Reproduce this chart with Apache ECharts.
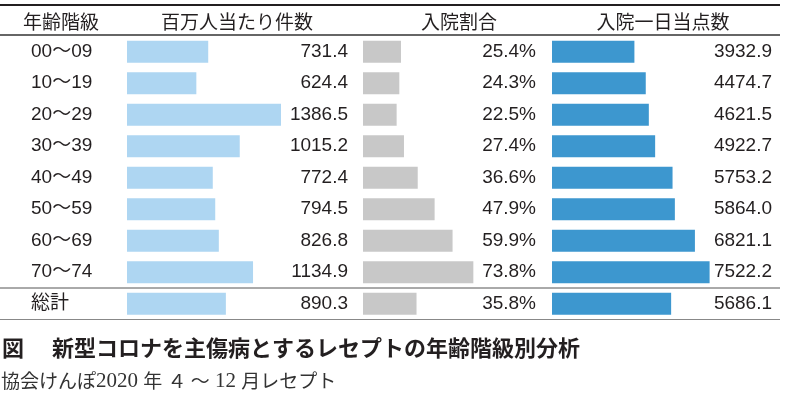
<!DOCTYPE html>
<html>
<head>
    <meta charset="utf-8" />
    <title>新型コロナ 年齢階級別分析</title>
    <script src="https://cdn.jsdelivr.net/npm/echarts@6/dist/echarts.min.js"></script>
    <style>
        html, body { margin: 0; padding: 0; background: #fff; }
        #chart { width: 786px; height: 399px; }
    </style>
</head>
<body>
    <div id="chart"></div>
    <script type="text/javascript">
        // data
        var ageGroups = ["00～09", "10～19", "20～29", "30～39", "40～49", "50～59", "60～69", "70～74", "総計"];
        var casesPerMillion = [731.4, 624.4, 1386.5, 1015.2, 772.4, 794.5, 826.8, 1134.9, 890.3];
        var admissionRate = [25.4, 24.3, 22.5, 27.4, 36.6, 47.9, 59.9, 73.8, 35.8];
        var pointsPerDay = [3932.9, 4474.7, 4621.5, 4922.7, 5753.2, 5864.0, 6821.1, 7522.2, 5686.1];
        var headers = ["年齢階級", "百万人当たり件数", "入院割合", "入院一日当点数"];

        var txt = '#231f20';
        var numFont = "'Liberation Sans', Arial, sans-serif";
        var jpFont = "'Liberation Sans', 'Noto Sans CJK JP', sans-serif";
        var cjk = "'Noto Sans CJK JP', sans-serif";
        var serif = "'Liberation Serif', 'Noto Sans CJK JP', serif";

        var chart = echarts.init(document.getElementById('chart'));

        var gridTop = 36, gridHeight = 283.5;
        var cols = [
            { left: 127, width: 221, max: 1990, data: casesPerMillion, color: '#aed6f2', fmt: function (v) { return v.toFixed(1); } },
            { left: 363, width: 173, max: 115.7, data: admissionRate, color: '#c8c8c8', fmt: function (v) { return v.toFixed(1) + '%'; } },
            { left: 552, width: 220, max: 10500, data: pointsPerDay, color: '#3d97cf', fmt: function (v) { return v.toFixed(1); } }
        ];

        var grid = [], xAxis = [], yAxis = [], series = [];
        cols.forEach(function (c, i) {
            grid.push({ left: c.left, top: gridTop, width: c.width, height: gridHeight });
            xAxis.push({ type: 'value', gridIndex: i, min: 0, max: c.max, show: false });
            // left axis: age groups (only shown for first column)
            yAxis.push({
                type: 'category', gridIndex: i, inverse: true, data: ageGroups,
                axisLine: { show: false }, axisTick: { show: false },
                axisLabel: {
                    show: i === 0, align: 'left', margin: 96,
                    fontSize: 19, color: txt, fontFamily: jpFont
                }
            });
            // right axis: the value labels
            yAxis.push({
                type: 'category', gridIndex: i, inverse: true, position: 'right',
                data: c.data.map(c.fmt),
                axisLine: { show: false }, axisTick: { show: false },
                axisLabel: { align: 'right', margin: 0, fontSize: 19, color: txt, fontFamily: numFont }
            });
            series.push({
                type: 'bar', xAxisIndex: i, yAxisIndex: i * 2,
                data: c.data, barWidth: 22,
                itemStyle: { color: c.color },
                silent: true
            });
        });

        var headX = [61, 237, 459, 663];
        var graphic = headers.map(function (h, i) {
            return {
                type: 'text', x: headX[i], y: 22,
                style: { text: h, fontSize: 19, fill: txt, fontFamily: cjk, align: 'center', verticalAlign: 'middle' }
            };
        });
        graphic.push(
            { type: 'line', shape: { x1: 0, y1: 5, x2: 780, y2: 5 }, style: { stroke: '#231f20', lineWidth: 2 } },
            { type: 'line', shape: { x1: 0, y1: 35, x2: 780, y2: 35 }, style: { stroke: '#333', lineWidth: 1.3 } },
            { type: 'line', shape: { x1: 0, y1: 288, x2: 780, y2: 288 }, style: { stroke: '#555', lineWidth: 1 } },
            { type: 'line', shape: { x1: 0, y1: 319.5, x2: 780, y2: 319.5 }, style: { stroke: '#888', lineWidth: 1 } },
            {
                type: 'text', x: 2, y: 348,
                style: { text: '図', fontSize: 22, fontWeight: 'bold', fill: txt, fontFamily: cjk, verticalAlign: 'middle' }
            },
            {
                type: 'text', x: 52, y: 348,
                style: { text: '新型コロナを主傷病とするレセプトの年齢階級別分析', fontSize: 22, fontWeight: 'bold', fill: txt, fontFamily: cjk, verticalAlign: 'middle' }
            },
            {
                type: 'text', x: 1, y: 381,
                style: {
                    text: '{j|協会けんぽ}{n|2020 }{j|年}{n| }{j|４ ～}{n| 12 }{j|月レセプト}',
                    verticalAlign: 'middle',
                    rich: {
                        j: { fontSize: 19, fill: '#333', fontFamily: cjk },
                        n: { fontSize: 21, fill: '#333', fontFamily: serif }
                    }
                }
            }
        );

        chart.setOption({
            animation: false,
            backgroundColor: '#fff',
            grid: grid,
            xAxis: xAxis,
            yAxis: yAxis,
            series: series,
            graphic: graphic
        });
    </script>
</body>
</html>
